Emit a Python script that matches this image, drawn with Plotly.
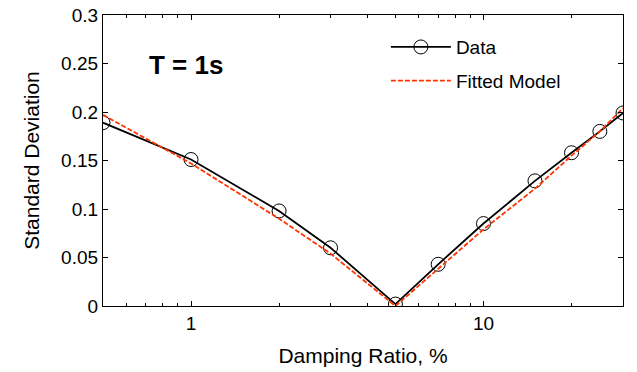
import plotly.graph_objects as go

damping = [0.5, 1, 2, 3, 5, 7, 10, 15, 20, 25, 30]
data_sd = [0.189, 0.151, 0.098, 0.060, 0.002, 0.043, 0.085, 0.129, 0.158, 0.180, 0.199]
fitted_sd = [0.197, 0.147, 0.090, 0.054, 0.0, 0.038, 0.079, 0.121, 0.155, 0.180, 0.204]
minor_ticks = [0.6, 0.7, 0.8, 0.9, 2, 3, 4, 5, 6, 7, 8, 9, 20, 30]

FONT = "Liberation Sans, Arial, Helvetica, sans-serif"

fig = go.Figure()
fig.add_trace(go.Scatter(
    x=damping, y=data_sd, mode="lines+markers", name="Data", legendgroup="a",
    line=dict(color="black", width=1.8),
    marker=dict(symbol="circle-open", size=14, color="black", line=dict(width=1)),
))
fig.add_trace(go.Scatter(
    x=damping, y=fitted_sd, mode="lines", name="Fitted Model", legendgroup="b",
    line=dict(color="#ff3300", width=1.8, dash="5px,2px"),
))

fig.add_annotation(
    x=0.085, y=0.828, xref="paper", yref="paper", text="<b>T = 1s</b>",
    showarrow=False, xanchor="left", yanchor="middle",
    font=dict(family=FONT, size=26, color="black"),
)

axis_common = dict(
    showline=True, linecolor="black", linewidth=1.2, mirror="ticks",
    ticks="inside", ticklen=5, tickcolor="black", showgrid=False, zeroline=False,
    tickfont=dict(family=FONT, size=19, color="black"), automargin=False,
)

fig.update_xaxes(
    type="log", range=[-0.30103, 1.4771], tickvals=[1, 10], ticktext=["1", "10"],
    title=dict(text="Damping Ratio, %", font=dict(family=FONT, size=21, color="black"), standoff=15),
    minor=dict(tickvals=minor_ticks, ticks="inside", ticklen=3, tickcolor="black"),
    **axis_common,
)
fig.update_yaxes(
    range=[0, 0.3], tickvals=[0, 0.05, 0.1, 0.15, 0.2, 0.25, 0.3],
    ticktext=["0", "0.05", "0.1", "0.15", "0.2", "0.25", "0.3"],
    title=dict(text="Standard Deviation", font=dict(family=FONT, size=21, color="black"), standoff=15),
    **axis_common,
)

fig.update_layout(
    width=637, height=372,
    margin=dict(l=103, r=14, t=15, b=66),
    paper_bgcolor="white", plot_bgcolor="white",
    showlegend=True,
    legend=dict(
        x=0.544, y=0.955, xanchor="left", yanchor="top",
        bgcolor="rgba(0,0,0,0)", borderwidth=0,
        font=dict(family=FONT, size=19, color="black"),
        itemwidth=60, tracegroupgap=6,
    ),
)

fig.write_html("out.html")
